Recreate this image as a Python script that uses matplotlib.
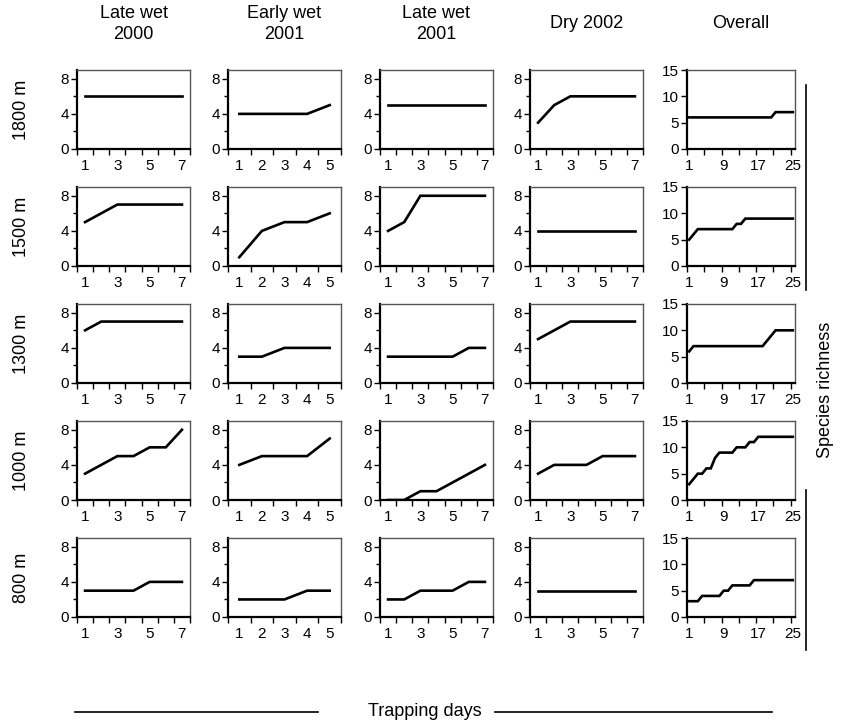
import numpy as np
import matplotlib
matplotlib.use('Agg')
import matplotlib.pyplot as plt
from matplotlib.lines import Line2D

plt.rcParams['font.family'] = ['Liberation Sans', 'DejaVu Sans']

seasons = ['Late wet\n2000', 'Early wet\n2001', 'Late wet\n2001', 'Dry 2002', 'Overall']
elevations = ['1800 m', '1500 m', '1300 m', '1000 m', '800 m']

# species richness per trapping day, rows = elevations
late_wet_2000 = [
    [6, 6, 6, 6, 6, 6, 6],
    [5, 6, 7, 7, 7, 7, 7],
    [6, 7, 7, 7, 7, 7, 7],
    [3, 4, 5, 5, 6, 6, 8],
    [3, 3, 3, 3, 4, 4, 4],
]
early_wet_2001 = [
    [4, 4, 4, 4, 5],
    [1, 4, 5, 5, 6],
    [3, 3, 4, 4, 4],
    [4, 5, 5, 5, 7],
    [2, 2, 2, 3, 3],
]
late_wet_2001 = [
    [5, 5, 5, 5, 5, 5, 5],
    [4, 5, 8, 8, 8, 8, 8],
    [3, 3, 3, 3, 3, 4, 4],
    [0, 0, 1, 1, 2, 3, 4],
    [2, 2, 3, 3, 3, 4, 4],
]
dry_2002 = [
    [3, 5, 6, 6, 6, 6, 6],
    [4, 4, 4, 4, 4, 4, 4],
    [5, 6, 7, 7, 7, 7, 7],
    [3, 4, 4, 4, 5, 5, 5],
    [3, 3, 3, 3, 3, 3, 3],
]
overall = [
    [6] * 20 + [7] * 5,
    [5, 6, 7, 7, 7, 7, 7, 7, 7, 7, 7, 8, 8] + [9] * 12,
    [6] + [7] * 17 + [8, 9] + [10] * 5,
    [3, 4, 5, 5, 6, 6, 8, 9, 9, 9, 9, 10, 10, 10, 11, 11] + [12] * 9,
    [3, 3, 3, 4, 4, 4, 4, 4, 5, 5, 6, 6, 6, 6, 6] + [7] * 10,
]
all_data = [late_wet_2000, early_wet_2001, late_wet_2001, dry_2002, overall]

W, H = 844, 727
fig = plt.figure(figsize=(W / 100, H / 100), dpi=100)

col_left = [77, 228, 380, 530, 687]
col_w = [113, 113, 113, 113, 108]
row_top = [70, 187, 304, 421, 538]
row_h = 79


def style_axes(ax):
    for s in ['left', 'bottom']:
        ax.spines[s].set_linewidth(1.6)
        ax.spines[s].set_color('black')
    for s in ['top', 'right']:
        ax.spines[s].set_linewidth(1.0)
        ax.spines[s].set_color('#555555')
    ax.tick_params(which='both', direction='out', color='black', width=1.0,
                   labelsize=11, pad=2)


for c in range(5):
    for r in range(5):
        ax = fig.add_axes([col_left[c] / W, 1 - (row_top[r] + row_h) / H,
                           col_w[c] / W, row_h / H])
        y = all_data[c][r]
        n = len(y)
        days = np.arange(1, n + 1)
        ax.plot(days, y, color='black', lw=1.9, solid_joinstyle='miter')
        style_axes(ax)
        ax.set_xlim(0.5, n + 0.5)
        if c == 4:
            ax.set_ylim(0, 15)
            ax.set_yticks([0, 5, 10, 15])
            ax.set_xticks([1, 9, 17, 25])
            ax.set_xticks(np.arange(0.5, n + 1, 4), minor=True)
        else:
            ax.set_ylim(0, 9)
            ax.set_yticks([0, 4, 8])
            ax.set_yticks([2, 6], minor=True)
            if n == 5:
                ax.set_xticks([1, 2, 3, 4, 5])
            else:
                ax.set_xticks([1, 3, 5, 7])
            ax.set_xticks(np.arange(0.5, n + 1, 1), minor=True)
        ax.tick_params(axis='x', which='major', length=0, pad=7)
        ax.tick_params(axis='x', which='minor', length=4)
        ax.tick_params(axis='y', which='major', length=4)
        ax.tick_params(axis='y', which='minor', length=3)
        if c == 0:
            ax.text(-0.49, 0.5, elevations[r], transform=ax.transAxes, ha='center',
                    va='center', rotation=90, fontsize=13)

# column titles
for c in range(5):
    xc = (col_left[c] + col_w[c] / 2) / W
    fig.text(xc, 1 - 24 / H, seasons[c], ha='center', va='center',
             fontsize=13, linespacing=1.3)

# right label with lines
fig.text(826 / W, 1 - 390 / H, 'Species richness', rotation=90, ha='center',
         va='center', fontsize=13)
fig.add_artist(Line2D([806 / W, 806 / W], [1 - 85 / H, 1 - 290 / H], color='black', lw=1.2))
fig.add_artist(Line2D([806 / W, 806 / W], [1 - 490 / H, 1 - 650 / H], color='black', lw=1.2))

# bottom label with lines
fig.text(425 / W, 1 - 712 / H, 'Trapping days', ha='center', va='center', fontsize=13)
fig.add_artist(Line2D([75 / W, 318 / W], [1 - 712 / H, 1 - 712 / H], color='black', lw=1.2))
fig.add_artist(Line2D([495 / W, 772 / W], [1 - 712 / H, 1 - 712 / H], color='black', lw=1.2))

fig.savefig('out.png', dpi=100)
